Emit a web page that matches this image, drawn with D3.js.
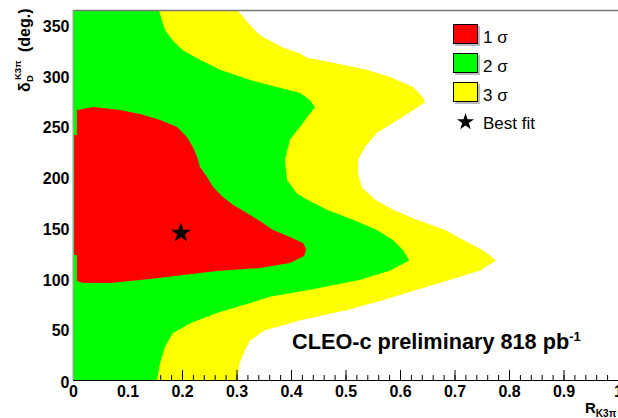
<!DOCTYPE html>
<html lang="en">
<head>
<meta charset="UTF-8">
<title>K3pi contours</title>
<style>
  body{margin:0;background:#fff;}
  svg{display:block;}
</style>
<script src="https://cdn.jsdelivr.net/npm/d3@7/dist/d3.min.js"></script>
</head>
<body>
<div id="draw"></div>
<script>
// contour edges, [R, delta] from top to bottom
var sigma3Edge = [[0.303,364],[0.325,350],[0.343,340],[0.361,335],[0.385,328],[0.417,322],[0.429,318],
  [0.477,313],[0.539,306],[0.582,299],[0.624,289],[0.642,279],[0.646,274],[0.624,266],[0.594,256],
  [0.558,244],[0.536,230],[0.523,217],[0.523,204],[0.530,190],[0.554,178],[0.587,168],[0.631,158],
  [0.683,148],[0.716,138],[0.752,128],[0.776,118],[0.747,108],[0.692,99],[0.631,89],[0.569,79],
  [0.503,69],[0.417,59],[0.352,49],[0.325,39],[0.316,30],[0.306,17],[0.301,0]];
var sigma2Edge = [[0.158,364],[0.163,355],[0.169,345],[0.183,335],[0.202,325],[0.233,316],[0.270,306],
  [0.325,296],[0.374,289],[0.417,283],[0.435,276],[0.444,269],[0.435,263],[0.417,250],[0.398,237],
  [0.389,217],[0.393,197],[0.411,184],[0.429,178],[0.466,168],[0.514,158],[0.558,148],[0.587,138],
  [0.606,128],[0.617,118],[0.582,108],[0.527,99],[0.435,89],[0.361,82],[0.325,76],[0.264,66],
  [0.215,56],[0.183,46],[0.169,33],[0.160,17],[0.154,0]];
// 1 sigma is a closed island
var sigma1Loop = [[0.007,96.6],[0.007,123.3],[0.002,123.3],[0.002,241.6],[0.007,241.6],[0.007,266.3],
  [0.037,269.2],[0.086,266.3],[0.123,262.3],[0.160,256.4],[0.191,249.5],[0.209,239.6],[0.220,229.8],
  [0.228,219.9],[0.233,210.1],[0.246,200.2],[0.257,190.3],[0.275,180.5],[0.294,172.6],[0.319,164.7],
  [0.343,156.8],[0.367,147.9],[0.398,141.0],[0.422,135.1],[0.428,129.2],[0.424,122.3],[0.398,115.4],
  [0.343,110.5],[0.264,107.5],[0.202,103.6],[0.141,99.6],[0.068,95.7],[0.018,95.7],[0.007,97.6]];
var bestFit = [0.198, 145];
var xTicks = [0,0.1,0.2,0.3,0.4,0.5,0.6,0.7,0.8,0.9,1];
var yTicks = [0,50,100,150,200,250,300,350];
var legendLabels = ["1 \u03c3","2 \u03c3","3 \u03c3"];
var legendColors = ["#ff0000","#00ff00","#ffff00"];

var w = 618, h = 418;
var padL = 73, padR = 618, padT = 11, padB = 380;
var font = "'Liberation Sans', Arial, Helvetica, sans-serif";

var x = d3.scaleLinear().domain([0,1]).range([padL,padR]);
var y = d3.scaleLinear().domain([0,364]).range([padB,padT]);

var svg = d3.select("#draw").append("svg")
    .attr("width", w).attr("height", h)
    .style("font-family", font);

var line = d3.line().x(function(d){return x(d[0]);}).y(function(d){return y(d[1]);});

// yellow below, green and red on top
svg.append("path")
    .attr("d", line([[0,0],[0,364]].concat(sigma3Edge)) + "Z")
    .attr("fill", "#ffff00");

// x ticks (hidden under green like the original)
svg.append("g")
    .attr("transform", "translate(0," + padB + ")")
    .call(d3.axisBottom(x).tickValues(x.ticks(50)).tickSizeInner(-5).tickSizeOuter(0).tickFormat(""))
    .call(function(g){g.select(".domain").remove();})
    .selectAll("line").attr("stroke","#000");
var xg = svg.append("g")
    .attr("transform", "translate(0," + padB + ")")
    .call(d3.axisBottom(x).tickValues(xTicks).tickSizeInner(-10).tickSizeOuter(0).tickPadding(6)
        .tickFormat(d3.format("~g")))
    .call(function(g){g.select(".domain").remove();});
xg.selectAll("text").attr("font-size",16).attr("font-weight","bold").attr("font-family",font).attr("fill","#000");

svg.append("path")
    .attr("d", line([[0,0],[0,364]].concat(sigma2Edge)) + "Z")
    .attr("fill", "#00ff00");
svg.append("path")
    .attr("d", line(sigma1Loop) + "Z")
    .attr("fill", "#ff0000");

svg.append("path")
    .attr("transform", "translate(" + x(bestFit[0]) + "," + y(bestFit[1]) + ")")
    .attr("d", d3.symbol().type(d3.symbolStar).size(124)())
    .attr("fill", "#000");

// frame
svg.append("line").attr("x1",padL).attr("x2",padR).attr("y1",padT-0.5).attr("y2",padT-0.5)
    .attr("stroke","#777").attr("stroke-width",1.5);
svg.append("line").attr("x1",padL).attr("x2",padL).attr("y1",padT-1).attr("y2",padB)
    .attr("stroke","#aaa").attr("stroke-width",1.2);
svg.append("line").attr("x1",padL).attr("x2",padR).attr("y1",padB+0.5).attr("y2",padB+0.5)
    .attr("stroke","#000").attr("stroke-width",1.2);

var yg = svg.append("g")
    .attr("transform", "translate(" + padL + ",0)")
    .call(d3.axisLeft(y).tickValues(yTicks).tickSize(0).tickPadding(3.5))
    .call(function(g){g.select(".domain").remove();});
yg.selectAll("text").attr("font-size",16).attr("font-weight","bold").attr("font-family",font).attr("fill","#000")
    .attr("dy", function(d){return d === 0 ? "0.45em" : "0.4em";});

// axis titles
var xt = svg.append("text").attr("x",585).attr("y",413)
    .attr("font-weight","bold").attr("font-size",15);
xt.append("tspan").text("R");
xt.append("tspan").attr("font-size",10).attr("dy",3.5).text("K3\u03c0");

var yt = svg.append("text").attr("transform","translate(30,92) rotate(-90)")
    .attr("font-weight","bold").attr("font-size",16);
yt.append("tspan").attr("x",0).attr("y",0).text("\u03b4");
yt.append("tspan").attr("x",12).attr("y",-9).attr("font-size",9.5).text("K3\u03c0");
yt.append("tspan").attr("x",10).attr("y",3).attr("font-size",9.5).text("D");
yt.append("tspan").attr("x",40).attr("y",0).text("(deg.)");

// annotation
var ann = svg.append("text").attr("x",292).attr("y",349)
    .attr("font-weight","bold").attr("font-size",21.7);
ann.append("tspan").text("CLEO-c preliminary 818 pb");
ann.append("tspan").attr("font-size",13).attr("dy",-8).text("-1");

// legend
var leg = svg.append("g").attr("font-size",17);
legendColors.forEach(function(c,i){
  var ty = 24 + i*29;
  leg.append("rect").attr("x",455).attr("y",ty+2).attr("width",25).attr("height",20).attr("fill","#bbb");
  leg.append("rect").attr("x",453.5).attr("y",ty+0.5).attr("width",24).attr("height",19)
      .attr("fill",c).attr("stroke","#000").attr("stroke-width",1);
  leg.append("text").attr("x",483).attr("y",ty+19).text(legendLabels[i]);
});
leg.append("path")
    .attr("transform","translate(465.5,122)")
    .attr("d", d3.symbol().type(d3.symbolStar).size(92)())
    .attr("fill","#000");
leg.append("text").attr("x",483).attr("y",129).text("Best fit");
</script>
</body>
</html>
